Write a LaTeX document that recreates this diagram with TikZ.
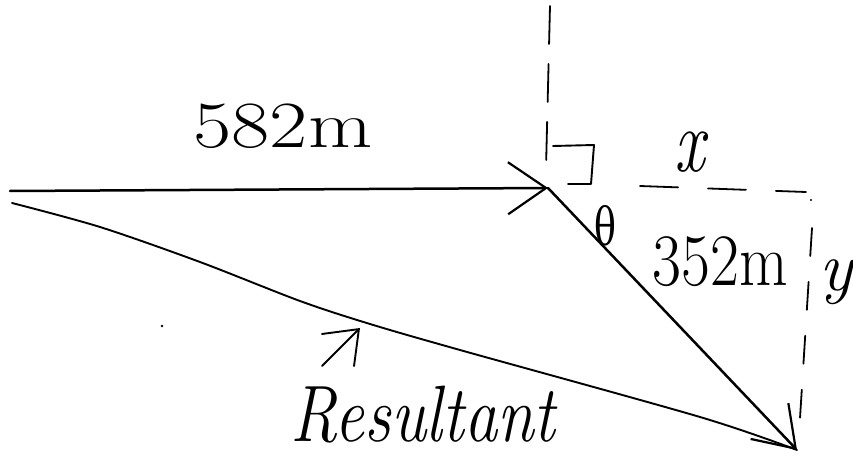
\documentclass[tikz,border=0pt]{standalone}
\usepackage{fontspec}
\newfontfamily\grk{DejaVu Serif}
\usetikzlibrary{arrows.meta}
\begin{document}
\begin{tikzpicture}[x=1pt,y=-1pt,line cap=round,line join=round,
  pen/.style={line width=2.5pt},
  thinpen/.style={line width=1.9pt},
  guide/.style={line width=1.8pt,dash pattern=on 38pt off 20pt},
  barbhead/.style={-{Straight Barb[length=38pt,width=52pt,line width=2.2pt]}},
  lbl/.style={inner sep=0pt,anchor=center}]
\useasboundingbox (0,0) rectangle (853,468);
% key points
\coordinate (A) at (10,191);
\coordinate (B) at (548,188);
\coordinate (C) at (797,450);
\coordinate (R0) at (12,203);
\coordinate (P) at (322,366);
\coordinate (Q) at (360,328);
% vectors
\draw[pen,barbhead] (A) -- (B);
\draw[pen,barbhead] (B) -- (C);
\draw[thinpen] plot[smooth] coordinates {(R0) (100,227) (200,262) (300,301) (370,324) (460,350) (700,417) (C)};
\draw[thinpen,-{Straight Barb[length=30pt,width=46pt,line width=1.9pt]}] (P) -- (Q);
% guides
\draw[guide] (550,6) -- (546,168);
\draw[guide,dash pattern=on 38pt off 30pt] (640,186) -- (806,192);
\draw[guide,dash pattern=on 28pt off 26pt] (812,228) -- (800,418);
\fill (811,200) circle (1.2);
\fill (162,326) circle (1.3);
% right angle mark
\draw[thinpen] (553,146) -- (594,145) -- (591,184) -- (568,184);
% labels
\node[lbl] (d1) at (283,126) {\fontsize{66}{66}\selectfont\scalebox{1.26}[1]{582m}};
\node[lbl] (xl) at (690,152) {\fontsize{90}{90}\selectfont\itshape\scalebox{0.75}[1]{x}};
\node[lbl] (d2) at (720,262) {\fontsize{74}{74}\selectfont\scalebox{0.85}[1]{352m}};
\node[lbl] (yl) at (836,282) {\fontsize{70}{70}\selectfont\itshape y};
\node[lbl] (th) at (605,226) {\grk\fontsize{52}{52}\selectfont\scalebox{0.7}[1]{θ}};
\node[lbl] (res) at (423,415) {\fontsize{80}{80}\selectfont\itshape\scalebox{0.83}[1]{Resultant}};
\end{tikzpicture}
\end{document}
